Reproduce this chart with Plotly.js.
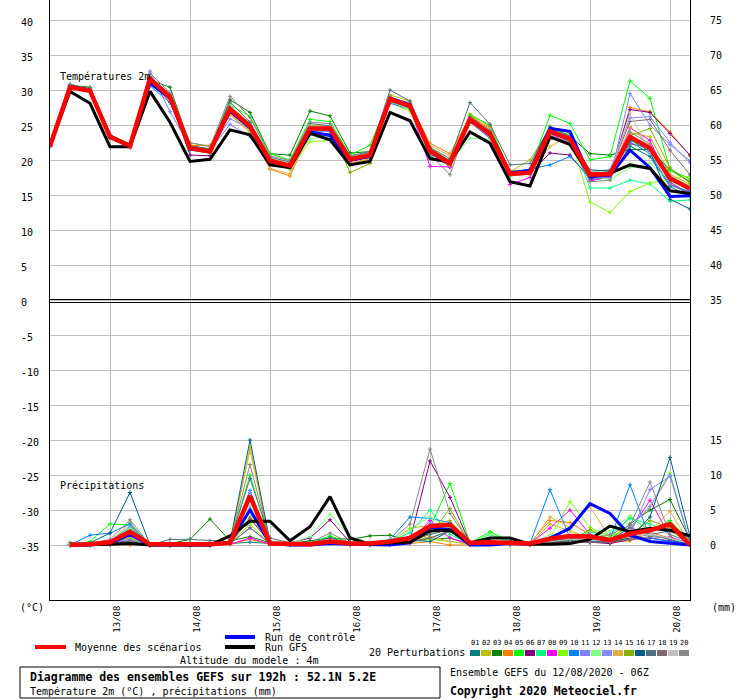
<!DOCTYPE html>
<html><head><meta charset="utf-8">
<script src="https://cdn.plot.ly/plotly-3.0.1.min.js"></script>
<style>html,body{margin:0;padding:0;background:#fff;} #chart{width:740px;height:700px;}</style>
</head><body><div id="chart"></div>
<script>
// ---- time axis ----
const START_UTC = Date.UTC(2020, 7, 12, 6);
const STEP_HOURS = 6;
const N_STEPS = 33;
const RANGE_START = '2020-08-12 06:00';
const RANGE_END = '2020-08-20 06:00';
const DAY_TICKS = ['2020-08-13','2020-08-14','2020-08-15','2020-08-16','2020-08-17','2020-08-18','2020-08-19','2020-08-20'];
const DAY_LABELS = ['13/08','14/08','15/08','16/08','17/08','18/08','19/08','20/08'];

// ---- axis ticks ----
const LEFT_TICKS = [-35,-30,-25,-20,-15,-10,-5,0,5,10,15,20,25,30,35,40];
const RIGHT_TICKS = [0,5,10,15,35,40,45,50,55,60,65,70,75];
const RIGHT_OFFSET = 35;

// ---- members ----
const MEMBER_NAMES = ['01','02','03','04','05','06','07','08','09','10','11','12','13','14','15','16','17','18','19','20'];
const MEMBER_COLORS = ['#008080','#c0c000','#008000','#ff8000','#00ff00','#800080','#00ff80','#ff00ff','#80ff00','#0080ff',
                       '#8080ff','#80ff80','#8888ff','#e0b040','#80b000','#006080','#507080','#806870','#c0c0c0','#888888'];

// ---- temperature 2m (°C) ----
const TEMP_MEAN    = [22.0,30.4,29.9,23.3,22.0,31.6,29.0,21.7,21.2,27.3,24.8,19.9,19.2,24.5,24.5,20.1,20.7,28.7,27.7,21.3,19.5,25.8,23.7,18.0,18.2,24.1,23.0,17.9,18.0,23.3,21.7,17.4,15.9];
const TEMP_CONTROL = [22.0,30.5,30.0,23.4,22.0,31.0,28.8,21.6,21.3,27.0,24.6,19.8,19.1,24.0,23.5,20.0,20.5,28.8,27.9,21.2,19.6,25.6,23.9,18.1,18.5,24.5,24.1,17.6,17.8,21.4,18.9,14.8,14.9];
const TEMP_GFS     = [22.0,29.8,28.1,21.9,21.9,29.8,25.4,19.8,20.1,24.3,23.6,19.3,18.9,23.8,22.9,19.3,19.8,26.8,25.6,20.2,19.7,24.0,22.4,16.9,16.3,23.3,22.2,17.9,18.1,19.3,18.8,15.6,15.2];
const TEMP_M01 = [22.1,30.5,29.8,23.2,21.9,31.2,28.6,21.4,21.0,27.0,24.5,19.8,19.3,24.2,24.1,19.9,20.5,28.3,27.5,21.0,19.3,25.6,23.5,17.8,18.3,23.8,22.7,17.2,17.5,22.0,20.5,16.2,14.8];
const TEMP_M02 = [22.0,30.8,30.3,23.5,22.1,31.9,29.3,22.0,21.6,27.8,25.2,20.1,19.4,24.9,24.8,20.4,21.0,29.3,28.4,21.8,19.8,26.6,24.8,18.3,20.0,24.6,23.8,18.2,18.1,23.9,23.3,18.0,16.5];
const TEMP_M03 = [22.2,30.6,30.4,23.6,22.3,31.4,30.4,22.1,21.5,28.6,26.8,20.9,20.7,27.0,26.3,21.0,21.2,28.9,28.0,21.6,19.9,26.3,24.2,18.4,18.6,24.5,23.4,20.9,20.7,21.5,21.5,18.6,16.9];
const TEMP_M04 = [21.9,30.2,30.0,23.4,22.0,31.3,28.3,22.1,22.1,26.5,24.0,18.7,17.7,24.0,24.3,19.6,20.1,28.6,28.0,22.4,20.9,26.3,24.6,18.3,17.9,23.2,22.5,17.5,17.8,27.5,26.9,24.0,20.6];
const TEMP_M05 = [22.3,30.5,30.0,23.3,22.2,31.6,29.4,21.9,21.5,27.9,26.2,20.9,20.0,25.8,25.5,20.7,22.1,29.0,27.9,21.4,19.8,26.4,25.0,18.2,18.6,26.4,25.2,20.0,20.5,31.3,28.8,18.6,17.3];
const TEMP_M06 = [22.0,30.3,29.8,23.1,21.8,31.5,28.8,20.7,20.6,27.5,25.0,19.8,19.0,24.6,24.4,19.8,20.4,28.5,27.4,21.1,19.0,26.0,23.9,17.9,18.1,21.0,20.7,17.3,17.9,27.2,26.8,23.8,20.7];
const TEMP_M07 = [22.1,30.4,29.9,23.2,22.1,31.8,29.2,21.8,21.4,27.6,24.9,20.1,19.4,24.0,24.3,20.0,20.9,28.8,27.8,20.5,19.3,25.9,23.5,17.7,18.0,24.3,23.6,16.0,16.0,17.1,16.6,14.1,14.3];
const TEMP_M08 = [22.0,30.5,30.1,23.3,22.0,31.7,28.9,21.6,21.0,27.2,24.6,19.6,19.1,24.7,24.6,20.2,20.3,28.4,27.5,19.1,19.0,25.5,23.3,16.5,17.5,23.7,22.4,17.0,17.6,24.6,22.8,16.6,15.3];
const TEMP_M09 = [22.1,30.3,29.7,23.2,21.9,31.5,28.7,21.5,21.0,26.8,24.2,19.6,18.8,22.6,22.8,19.2,20.0,28.2,27.0,21.1,19.2,25.6,23.8,18.1,18.4,24.7,23.4,14.0,12.5,15.5,16.7,17.3,17.7];
const TEMP_M10 = [22.0,30.4,29.8,23.3,22.0,30.6,28.2,21.5,21.1,27.1,24.5,20.0,19.3,23.6,23.8,19.9,20.5,28.1,27.3,20.8,19.6,25.4,23.1,18.3,18.7,19.3,20.5,17.6,17.9,22.6,20.9,16.4,15.5];
const TEMP_M11 = [22.0,30.6,30.0,23.4,22.1,32.7,26.9,21.9,21.4,25.1,23.3,19.7,19.3,24.2,24.1,20.0,20.7,29.0,28.1,21.5,19.7,26.1,23.9,18.0,18.4,24.4,23.2,17.6,17.4,29.5,25.0,22.2,19.9];
const TEMP_M12 = [22.0,30.6,30.1,23.4,22.1,31.9,29.1,21.8,21.3,27.8,25.0,20.3,19.5,23.0,23.4,20.2,20.9,28.5,27.2,21.5,19.7,23.1,23.0,18.1,18.3,24.2,22.9,17.7,17.2,18.9,19.5,17.1,16.2];
const TEMP_M13 = [22.1,30.5,29.9,23.3,22.0,31.8,28.5,21.8,21.3,25.9,24.5,19.9,19.2,24.3,24.2,20.0,20.8,28.9,27.9,21.3,19.6,25.9,23.6,18.0,18.3,24.5,23.3,18.4,18.6,26.0,26.2,22.5,19.6];
const TEMP_M14 = [21.9,30.3,30.2,23.2,21.9,31.2,28.5,22.4,22.0,26.7,24.0,18.8,18.0,24.4,24.6,19.5,20.2,28.8,28.2,22.1,20.6,26.0,24.5,17.9,18.2,21.9,23.5,18.0,17.9,24.8,22.0,17.6,16.3];
const TEMP_M15 = [22.0,30.5,30.0,23.3,22.2,31.6,29.4,21.6,21.0,27.4,25.3,19.5,18.7,24.9,24.7,18.2,19.5,28.6,27.6,21.2,19.4,25.7,23.9,17.8,18.0,24.0,23.0,18.4,18.5,23.5,24.5,18.9,16.7];
const TEMP_M16 = [22.1,30.6,30.0,23.4,22.0,31.7,29.1,21.8,21.3,27.3,24.9,20.0,19.3,24.6,24.5,20.2,20.7,28.8,27.9,21.3,19.7,25.8,23.6,18.2,18.4,24.0,22.8,18.6,18.4,22.9,21.2,14.4,13.0];
const TEMP_M17 = [22.0,30.8,30.1,23.5,22.2,31.9,29.4,22.0,21.6,28.3,25.4,20.4,19.7,25.2,24.9,20.6,21.2,30.0,28.4,21.8,20.2,28.2,25.1,19.3,19.5,24.8,23.4,17.8,18.1,22.3,21.8,16.9,15.0];
const TEMP_M18 = [22.0,30.4,29.9,23.2,22.0,31.4,28.8,21.6,21.2,27.5,25.0,19.9,19.2,24.7,24.7,20.1,20.6,28.7,27.9,21.4,19.4,25.6,23.6,18.0,18.3,24.3,23.2,18.1,18.3,25.5,25.8,21.4,17.9];
const TEMP_M19 = [22.0,30.6,29.9,23.3,22.0,31.8,28.9,21.9,21.3,27.7,24.9,20.1,19.3,24.8,24.7,20.3,20.8,28.4,27.5,21.5,19.7,25.4,23.4,18.3,18.5,23.6,22.3,18.5,18.0,26.7,21.0,17.8,16.2];
const TEMP_M20 = [22.0,30.7,30.2,23.4,22.0,32.4,29.6,22.5,21.9,29.1,26.1,20.6,19.9,25.4,25.2,20.6,21.0,29.1,27.8,20.8,17.9,26.2,24.2,18.4,18.3,23.0,22.8,16.9,17.1,24.0,22.3,16.5,15.1];

// ---- precipitation (mm per 6h) ----
const PREC_MEAN    = [null,0.05,0.1,0.4,1.9,0.1,0.1,0.1,0.1,0.3,7.0,0.2,0.2,0.1,0.5,0.2,0.2,0.5,1.0,2.7,2.9,0.3,0.4,0.3,0.2,0.9,1.3,1.2,0.7,1.6,2.1,3.0,0.0];
const PREC_CONTROL = [null,0,0,0.2,1.5,0,0,0,0,0.3,5.0,0.2,0,0,0.2,0.1,0,0,0.3,2.5,2.2,0,0,0.2,0.1,1.0,2.4,5.9,4.5,1.4,0.5,0.3,0];
const PREC_GFS     = [null,0,0,0.1,0.2,0,0,0,0,1.3,3.4,3.4,0.6,2.6,6.9,1.0,0.1,0.3,0.4,2.0,2.1,0.3,1.0,1.0,0.1,0.1,0.2,0.8,2.7,1.9,2.4,2.1,1.3];
const PREC_M01 = [null,0,0,0.3,0.6,0,0,0,0,0.2,0.4,0.2,0,0.1,0.5,0.1,0,0.2,0.5,1.0,2.0,0.2,0.3,0.2,0.1,0.4,0.8,0.6,0.3,1.0,1.5,0.8,0.0];
const PREC_M02 = [null,0,0.1,0.4,3.2,0,0,0,0,0.3,14.0,0.5,0.1,0.1,0.3,0.1,0.1,0.3,2.4,2.8,3.5,0.3,0.4,0.2,0.1,3.0,2.0,1.0,0.6,1.2,2.5,2.0,0.3];
const PREC_M03 = [null,0.3,0.2,0.5,0.5,0,0.2,0.8,3.7,0.6,1.2,0.3,0.2,0.6,1.0,0.8,1.3,1.4,0.6,0.8,1.0,0.1,0.5,0.3,0.1,0.3,0.6,0.5,0.8,3.0,5.0,6.5,0.8];
const PREC_M04 = [null,0,0,0,0,0,0,0,0,0.1,0.8,0.1,0,0,0.2,0,0,0,0.2,0.5,0,0,0.2,0.1,0.3,3.5,3.2,1.5,0.4,0.6,1.8,1.0,0.2];
const PREC_M05 = [null,0,0.5,3.0,2.9,0,0,0,0,0.3,10.0,0.4,0.1,0.2,1.3,0.3,0.2,0.4,1.0,2.5,8.8,0.3,1.9,0.5,0.1,0.6,1.2,1.5,1.0,4.0,2.0,3.5,0.5];
const PREC_M06 = [null,0,0,0.2,1.0,0,0,0,0,0.2,3.8,0.3,0.3,1.0,3.6,0.4,0.1,0.3,0.7,12.0,6.8,0.2,0.3,0.1,0,0.3,0.5,0.4,0.2,0.8,1.0,0.6,0.1];
const PREC_M07 = [null,0,0,0.4,2.5,0,0,0,0,0.2,5.5,0.2,0.1,0.2,0.6,0.2,0.1,0.4,1.8,5.0,1.5,0.2,1.5,0.4,0.1,0.4,0.7,1.8,1.5,3.8,3.0,1.5,0.4];
const PREC_M08 = [null,0,0,0.1,1.3,0,0,0,0,0.1,1.0,0.1,0,0.1,0.3,0.1,0,0.1,0.4,3.5,1.0,0.1,0.2,0.3,0.2,2.4,5.0,1.5,0.5,2.0,6.4,1.2,0.1];
const PREC_M09 = [null,0,0,0.2,1.0,0,0,0,0,0.2,3.0,0.2,0.1,0.1,0.4,0.1,0.1,0.2,0.5,0.8,0.5,0.1,0.3,0.2,0.1,1.0,6.2,2.5,1.2,2.5,5.5,10.3,0.3];
const PREC_M10 = [null,0,1.4,1.7,3.0,0,0,0,0,0.3,7.8,0.3,0.1,0.2,0.5,0.2,0.1,0.8,4.0,3.8,3.2,0.2,0.4,0.3,0.2,7.9,1.0,0.6,0.8,8.6,1.0,0.5,0.2];
const PREC_M11 = [null,0,0,0.5,2.7,0,0,0,0,0.2,2.4,0.2,0.1,0.2,0.4,0.2,0.1,0.3,0.8,3.0,3.0,0.2,0.3,0.2,0.1,0.5,0.8,0.6,0.5,1.5,7.9,9.8,0.4];
const PREC_M12 = [null,0,0,0.6,2.3,0,0,0,0,0.3,7.5,0.5,0.2,1.2,4.4,1.2,0.3,0.5,2.2,4.0,2.5,0.3,1.6,0.5,0.2,1.5,1.0,2.0,2.0,4.2,2.0,3.0,0.3];
const PREC_M13 = [null,0,0,0.3,0.8,0,0,0,0,0.2,7.5,0.3,0.1,0.2,0.4,0.2,0.1,0.3,0.9,2.0,2.5,0.2,0.3,0.2,0.1,0.6,0.9,0.7,0.6,2.5,5.5,10.0,0.4];
const PREC_M14 = [null,0,0,0.2,1.5,0,0,0,0,0.3,13.5,0.4,0.1,0.1,0.3,0.1,0.1,0.2,0.6,1.2,0.5,0.1,0.3,0.2,0.1,4.0,2.5,5.5,1.0,1.0,2.0,4.8,0.2];
const PREC_M15 = [null,0,0,0.2,0.4,0,0,0,0,0.2,4.0,0.2,0.1,0.1,0.3,0.1,0.1,0.2,0.5,1.5,5.2,0.2,0.3,0.2,0.1,0.4,0.6,2.2,0.8,1.5,3.5,2.5,0.2];
const PREC_M16 = [null,0,0.3,1.7,7.5,0,0,0,0,0.4,15.0,0.4,0.1,0.2,0.6,0.2,0.1,0.3,0.7,0.5,2.0,0.2,0.3,0.2,0.1,0.3,0.6,0.4,0.5,1.0,4.0,12.5,1.2];
const PREC_M17 = [null,0,0.2,0.6,1.8,0,0.8,0.8,0.6,0.5,9.5,1.0,0.3,0.3,1.0,0.3,0.2,0.4,1.2,1.5,2.2,0.3,0.5,0.6,0.2,0.5,0.8,0.6,0.7,2.5,1.5,2.0,1.0];
const PREC_M18 = [null,0,0,0.2,0.6,0,0,0,0,0.2,2.5,0.2,0.1,0.2,0.4,0.1,0.1,0.2,0.4,1.0,2.0,0.1,0.3,0.2,0.1,0.3,0.5,0.4,0.4,0.8,1.2,1.0,0.3];
const PREC_M19 = [null,0,0,0.3,2.0,0,0,0,0,0.2,5.5,0.3,0.1,0.1,0.3,0.1,0.1,0.2,0.6,2.0,2.5,0.2,0.3,0.3,0.2,0.5,0.8,0.7,0.6,1.2,1.5,1.0,0.2];
const PREC_M20 = [null,0,0.2,0.8,3.6,0,0,0,0,0.4,11.5,0.6,0.2,0.3,1.7,0.3,0.2,0.5,3.0,13.7,4.5,0.3,0.5,0.3,0.2,0.6,1.0,0.8,1.5,2.8,9.0,1.5,0.4];

const TEMP_MEMBERS = [TEMP_M01,TEMP_M02,TEMP_M03,TEMP_M04,TEMP_M05,TEMP_M06,TEMP_M07,TEMP_M08,TEMP_M09,TEMP_M10,
                      TEMP_M11,TEMP_M12,TEMP_M13,TEMP_M14,TEMP_M15,TEMP_M16,TEMP_M17,TEMP_M18,TEMP_M19,TEMP_M20];
const PREC_MEMBERS = [PREC_M01,PREC_M02,PREC_M03,PREC_M04,PREC_M05,PREC_M06,PREC_M07,PREC_M08,PREC_M09,PREC_M10,
                      PREC_M11,PREC_M12,PREC_M13,PREC_M14,PREC_M15,PREC_M16,PREC_M17,PREC_M18,PREC_M19,PREC_M20];

// ---- build time stamps ----
function pad(n){return (n<10?'0':'')+n;}
const TIMES = [];
for (let i = 0; i < N_STEPS; i++) {
  const d = new Date(START_UTC + i*STEP_HOURS*3600e3);
  TIMES.push(d.getUTCFullYear()+'-'+pad(d.getUTCMonth()+1)+'-'+pad(d.getUTCDate())+' '+pad(d.getUTCHours())+':00');
}

// ---- layout helpers (pixel -> paper) ----
const W = 740, H = 700, ML = 50, MR = 50, MT = 0, MB = 100;
const PW = W-ML-MR, PH = H-MT-MB;
const px = x => (x-ML)/PW;
const py = y => 1-(y-MT)/PH;
const FONT = 'DejaVu Sans Mono, Liberation Mono, monospace';

const traces = [];
for (let m = 0; m < MEMBER_NAMES.length; m++) {
  const c = MEMBER_COLORS[m];
  const common = {type:'scatter', mode:'lines+markers', x:TIMES, line:{color:c, width:1},
    marker:{symbol:'cross-thin', size:3, line:{color:c, width:1}}, hoverinfo:'skip', showlegend:false};
  traces.push(Object.assign({}, common, {y:TEMP_MEMBERS[m], yaxis:'y', name:'T'+MEMBER_NAMES[m]}));
  traces.push(Object.assign({}, common, {y:PREC_MEMBERS[m], yaxis:'y2', name:'P'+MEMBER_NAMES[m]}));
}
const mains = [
  {name:'Run de contrôle', color:'#0000ff', width:3, t:TEMP_CONTROL, p:PREC_CONTROL},
  {name:'Run GFS', color:'#000000', width:3, t:TEMP_GFS, p:PREC_GFS},
  {name:'Moyenne des scénarios', color:'#ff0000', width:4.5, t:TEMP_MEAN, p:PREC_MEAN}
];
mains.forEach(s => {
  traces.push({type:'scatter', mode:'lines', x:TIMES, y:s.t, yaxis:'y', line:{color:s.color, width:s.width}, hoverinfo:'skip', showlegend:false});
  traces.push({type:'scatter', mode:'lines', x:TIMES, y:s.p, yaxis:'y2', line:{color:s.color, width:s.width}, hoverinfo:'skip', showlegend:false});
});

const YR = 300/7; // half range in °C (7 px per °C)
const annotations = [];
LEFT_TICKS.forEach(v => annotations.push({xref:'paper', yref:'y', x:px(19), y:v, yshift:-2, text:String(v),
  showarrow:false, xanchor:'left', yanchor:'middle', font:{family:FONT, size:10, color:'#000'}}));
function txt(t, x, y, opts) {
  annotations.push(Object.assign({xref:'paper', yref:'paper', x:px(x), y:py(y), text:t, showarrow:false,
    xanchor:'left', yanchor:'middle', borderpad:0, font:{family:FONT, size:10, color:'#000'}}, opts||{}));
}
txt('Températures 2m', 59, 76);
txt('Précipitations', 59, 485);
txt('(°C)', 19, 607);
txt('(mm)', 711, 607);
txt('Moyenne des scénarios', 74, 647);
txt('Run de contrôle', 264, 637);
txt('Run GFS', 264, 647);
txt('Altitude du modele : 4m', 179, 660);
txt('<b>Diagramme des ensembles GEFS sur 192h : 52.1N 5.2E</b>', 29, 677, {font:{family:FONT, size:11.5, color:'#000'}});
txt('Température 2m (°C) , précipitations (mm)', 29, 691);
txt('20 Perturbations', 368, 652);
txt('Ensemble GEFS du 12/08/2020 - 06Z', 449, 672);
txt('<b>Copyright 2020 Meteociel.fr</b>', 449, 691, {font:{family:FONT, size:11.5, color:'#000'}});

const shapes = [];
function hline(x0, x1, y, color, w) {
  shapes.push({type:'line', xref:'paper', yref:'paper', x0:px(x0), x1:px(x1), y0:py(y), y1:py(y), line:{color:color, width:w}});
}
hline(50, 690, 299.5, '#000', 1);
hline(50, 690, 302.5, '#000', 1);
hline(35, 66, 647, '#ff0000', 4);
hline(225, 255, 637, '#0000ff', 4);
hline(225, 255, 647, '#000000', 4);
shapes.push({type:'rect', xref:'paper', yref:'paper', x0:px(20), x1:px(440), y0:py(667), y1:py(698), line:{color:'#000', width:1}});
MEMBER_NAMES.forEach((n, k) => {
  const x0 = 470 + 11*k;
  shapes.push({type:'rect', xref:'paper', yref:'paper', x0:px(x0), x1:px(x0+10), y0:py(650), y1:py(656),
    fillcolor:MEMBER_COLORS[k], line:{width:0}});
  annotations.push({xref:'paper', yref:'paper', x:px(x0+5), y:py(643), text:n, showarrow:false,
    xanchor:'center', yanchor:'middle', borderpad:0, font:{family:FONT, size:7, color:'#000'}});
});

const layout = {
  width:W, height:H, margin:{l:ML, r:MR, t:MT, b:MB, pad:0},
  paper_bgcolor:'#fff', plot_bgcolor:'#fff', showlegend:false,
  font:{family:FONT, size:10, color:'#000'},
  xaxis:{type:'date', range:[RANGE_START, RANGE_END], tickmode:'array', tickvals:DAY_TICKS, ticktext:DAY_LABELS,
    tickangle:-90, ticks:'', ticklabelstandoff:1, ticklabelshift:7, tickfont:{family:FONT, size:9, color:'#000'},
    showgrid:true, gridcolor:'#c0c0c0', gridwidth:1, showline:true, linecolor:'#000', linewidth:1, zeroline:false, fixedrange:true},
  yaxis:{range:[-YR, YR], tickmode:'array', tickvals:LEFT_TICKS, showticklabels:false, ticks:'',
    showgrid:true, gridcolor:'#c0c0c0', gridwidth:1, zeroline:false, showline:true, linecolor:'#000', linewidth:1, fixedrange:true},
  yaxis2:{overlaying:'y', side:'right', range:[-YR+RIGHT_OFFSET, YR+RIGHT_OFFSET], tickmode:'array', tickvals:RIGHT_TICKS,
    ticks:'', ticklabelstandoff:17, tickfont:{family:FONT, size:10, color:'#000'}, showgrid:false, zeroline:false,
    showline:true, linecolor:'#000', linewidth:1, fixedrange:true},
  annotations:annotations, shapes:shapes
};
Plotly.newPlot('chart', traces, layout, {staticPlot:true, displayModeBar:false});
</script></body></html>
